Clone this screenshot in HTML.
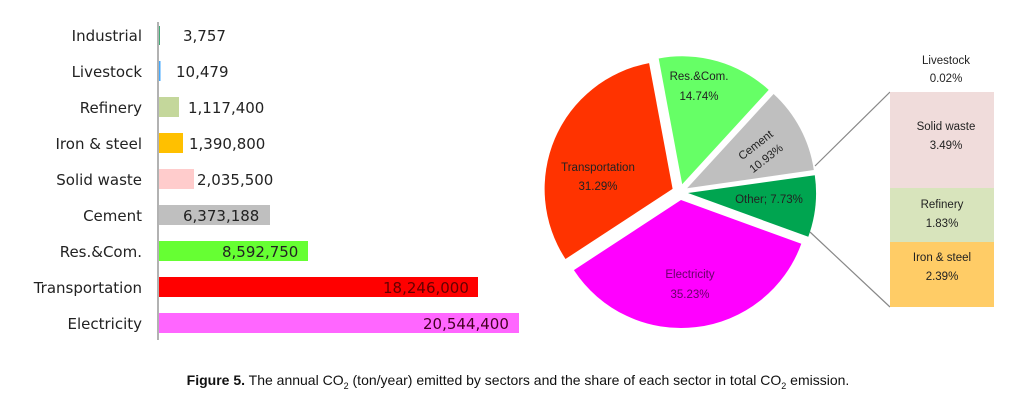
<!DOCTYPE html>
<html><head><meta charset="utf-8"><style>
body{margin:0;background:#fff;width:1025px;height:406px;overflow:hidden;font-family:"DejaVu Sans","Liberation Sans",sans-serif;}
</style></head><body>
<svg width="1025" height="406" xmlns="http://www.w3.org/2000/svg">
<g font-family="DejaVu Sans, Liberation Sans, sans-serif" font-size="15" fill="#222">
<line x1="158" y1="22" x2="158" y2="340" stroke="#999" stroke-width="1.5"/>
<g text-anchor="end">
<text x="142" y="41">Industrial</text>
<text x="142" y="77">Livestock</text>
<text x="142" y="113">Refinery</text>
<text x="142" y="149">Iron &amp; steel</text>
<text x="142" y="185">Solid waste</text>
<text x="142" y="221">Cement</text>
<text x="142" y="257">Res.&amp;Com.</text>
<text x="142" y="293">Transportation</text>
<text x="142" y="329">Electricity</text>
</g>
<rect x="159" y="26" width="1" height="19" fill="#4a7"/>
<rect x="159" y="61" width="1.5" height="20" fill="#4af"/>
<rect x="159" y="97" width="20" height="20" fill="#c4d79b"/>
<rect x="159" y="133" width="24" height="20" fill="#ffc000"/>
<rect x="159" y="169" width="35" height="20" fill="#ffcccc"/>
<rect x="159" y="205" width="111" height="20" fill="#bfbfbf"/>
<rect x="159" y="241" width="149" height="20" fill="#66ff33"/>
<rect x="159" y="277" width="319" height="20" fill="#ff0000"/>
<rect x="159" y="313" width="360" height="20" fill="#ff66ff"/>
<text x="183" y="41">3,757</text>
<text x="176" y="77">10,479</text>
<text x="188" y="113">1,117,400</text>
<text x="189" y="149">1,390,800</text>
<text x="197" y="185">2,035,500</text>
<text x="183" y="221">6,373,188</text>
<text x="222" y="257">8,592,750</text>
<text x="383" y="293" fill="#600">18,246,000</text>
<text x="423" y="329" fill="#402">20,544,400</text>
</g>
<g>
<path d="M688,193 L814.8,175.2 A128,128 0 0 1 808.3,236.8 Z" fill="#00a550"/>
<path d="M681,200 L801.3,243.8 A128,128 0 0 1 573.9,270.1 Z" fill="#ff00ff"/>
<path d="M672.6,188.9 L565.5,259 A128,128 0 0 1 649.1,63.1 Z" fill="#ff3300"/>
<path d="M682.2,184.3 L658.7,58.5 A128,128 0 0 1 768.7,89.9 Z" fill="#66ff66"/>
<path d="M687.1,188.3 L773.6,94 A128,128 0 0 1 813.8,170 Z" fill="#bfbfbf"/>
</g>
<g font-family="Liberation Sans, sans-serif" font-size="11.5" fill="#222" text-anchor="middle">
<text x="699" y="80">Res.&amp;Com.</text><text x="699" y="100">14.74%</text>
<text x="598" y="171">Transportation</text><text x="598" y="190">31.29%</text>
<text x="690" y="278" fill="#606">Electricity</text><text x="690" y="298" fill="#606">35.23%</text>
<text x="769" y="203">Other; 7.73%</text>
<g transform="translate(758,148) rotate(-38)"><text x="0" y="0">Cement</text><text x="0" y="17">10.93%</text></g>
</g>
<line x1="815" y1="166" x2="890" y2="92" stroke="#888" stroke-width="1.2"/>
<line x1="810" y1="232" x2="890" y2="307" stroke="#888" stroke-width="1.2"/>
<rect x="890" y="92" width="104" height="96" fill="#f0dcdb"/>
<rect x="890" y="188" width="104" height="54" fill="#d8e4bc"/>
<rect x="890" y="242" width="104" height="65" fill="#ffcc66"/>
<g font-family="Liberation Sans, sans-serif" font-size="11.5" fill="#222" text-anchor="middle">
<text x="946" y="64">Livestock</text><text x="946" y="82">0.02%</text>
<text x="946" y="130">Solid waste</text><text x="946" y="149">3.49%</text>
<text x="942" y="208">Refinery</text><text x="942" y="227">1.83%</text>
<text x="942" y="261">Iron &amp; steel</text><text x="942" y="280">2.39%</text>
</g>
<text x="518" y="385" text-anchor="middle" font-family="Liberation Sans, sans-serif" font-size="14" fill="#111"><tspan font-weight="bold">Figure 5.</tspan> The annual CO<tspan font-size="9" dy="4">2</tspan><tspan dy="-4"> (ton/year) emitted by sectors and the share of each sector in total CO</tspan><tspan font-size="9" dy="4">2</tspan><tspan dy="-4"> emission.</tspan></text>
</svg>
</body></html>
